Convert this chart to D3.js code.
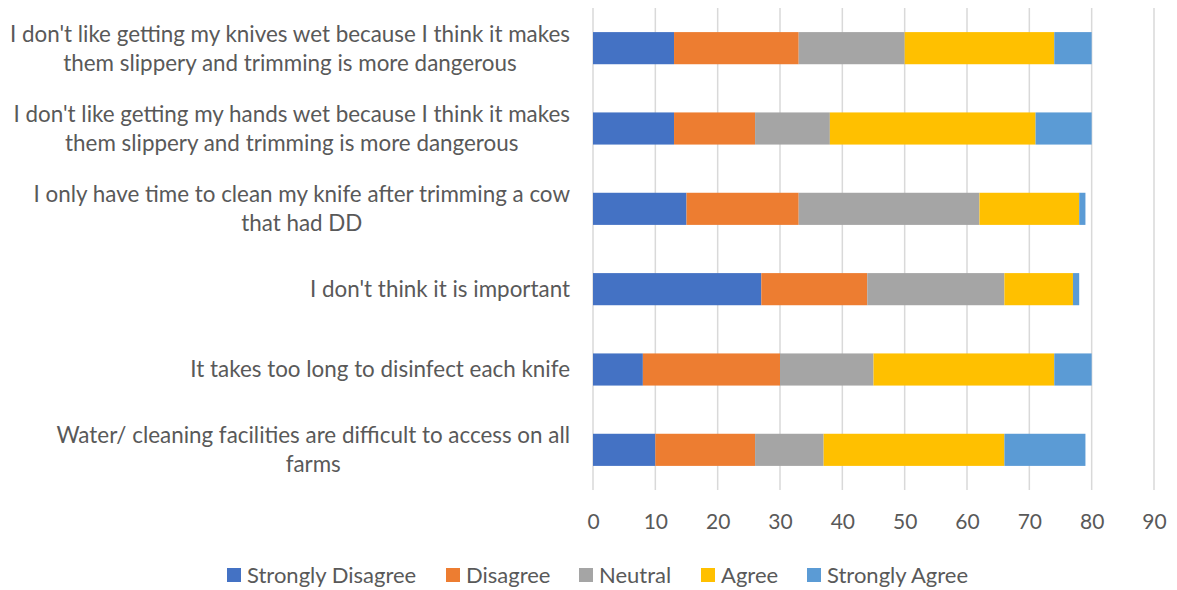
<!DOCTYPE html>
<html>
<head>
<meta charset="utf-8">
<script src="https://cdn.jsdelivr.net/npm/d3@7"></script>
<style>
  html, body { margin: 0; padding: 0; background: #fff; }
  svg text { font-family: Lato, "Open Sans", sans-serif; fill: #595959; }
</style>
</head>
<body>
<svg id="chart" width="1177" height="590"></svg>
<script>
// Survey statements (top to bottom), each label split into display lines
const categories = [
  ["I don't like getting my knives wet because I think it makes", "them slippery and trimming is more dangerous"],
  ["I don't like getting my hands wet because I think it makes", "them slippery and trimming is more dangerous"],
  ["I only have time to clean my knife after trimming a cow", "that had DD"],
  ["I don't think it is important"],
  ["It takes too long to disinfect each knife"],
  ["Water/ cleaning facilities are difficult to access on all", "farms"]
];

const seriesNames = ["Strongly Disagree", "Disagree", "Neutral", "Agree", "Strongly Agree"];
const seriesColors = ["#4472C4", "#ED7D31", "#A5A5A5", "#FFC000", "#5B9BD5"];

const stronglyDisagree = [13, 13, 15, 27, 8, 10];
const disagree         = [20, 13, 18, 17, 22, 16];
const neutral          = [17, 12, 29, 22, 15, 11];
const agree            = [24, 33, 16, 11, 29, 29];
const stronglyAgree    = [6, 9, 1, 1, 6, 13];

const xTicks = [0, 10, 20, 30, 40, 50, 60, 70, 80, 90];

const seriesValues = [stronglyDisagree, disagree, neutral, agree, stronglyAgree];

// Build rows for d3.stack
const rows = categories.map((c, i) => {
  const r = { idx: i };
  seriesNames.forEach((s, k) => { r[s] = seriesValues[k][i]; });
  return r;
});

const svg = d3.select("#chart");
const margin = { left: 593, right: 23, top: 8, bottom: 100 };
const W = 1177, H = 590;

const x = d3.scaleLinear().domain([0, 90]).range([margin.left, W - margin.right]);
const y = d3.scaleBand().domain(d3.range(categories.length))
  .range([margin.top, H - margin.bottom]).paddingInner(0.6).paddingOuter(0.3);

// Vertical gridlines
svg.append("g").selectAll("line").data(xTicks).join("line")
  .attr("x1", d => x(d)).attr("x2", d => x(d))
  .attr("y1", margin.top).attr("y2", H - margin.bottom)
  .attr("stroke", "#D9D9D9").attr("stroke-width", 1.5);

// Stacked bars
const stack = d3.stack().keys(seriesNames)(rows);
svg.append("g").selectAll("g").data(stack).join("g")
  .attr("fill", (d, i) => seriesColors[i])
  .selectAll("rect").data(d => d).join("rect")
  .attr("x", d => x(d[0]))
  .attr("width", d => x(d[1]) - x(d[0]))
  .attr("y", d => y(d.data.idx))
  .attr("height", y.bandwidth());

// X axis tick labels
const xAxis = d3.axisBottom(x).tickValues(xTicks).tickSize(0).tickPadding(0);
const gx = svg.append("g").attr("transform", `translate(0,${H - margin.bottom + 24})`).call(xAxis);
gx.select(".domain").remove();
gx.selectAll("text").style("font-size", "21px").style("font-family", "Lato, sans-serif").attr("fill", "#595959");

// Category labels: block right-aligned, lines centred within the block
const labelRight = 570, lineH = 29, labelSize = "22.4px";
const labelGroups = svg.append("g").selectAll("g").data(categories).join("g");
labelGroups.each(function(d, i) {
  const g = d3.select(this);
  const top = y(i) + y.bandwidth() / 2 - (d.length - 1) * lineH / 2;
  const texts = d.map((line, j) => g.append("text")
    .attr("y", top + j * lineH).attr("dy", "0.35em")
    .style("font-size", labelSize).text(line));
  const widths = texts.map(t => t.node().getComputedTextLength());
  const maxW = d3.max(widths);
  const center = labelRight - maxW / 2;
  texts.forEach(t => t.attr("text-anchor", "middle").attr("x", center));
});

// Legend
const legendX = [227, 446, 579, 701, 807];
const lg = svg.append("g").selectAll("g").data(seriesNames).join("g")
  .attr("transform", (d, i) => `translate(${legendX[i]},575)`);
lg.append("rect").attr("x", 0).attr("y", -7).attr("width", 14).attr("height", 14)
  .attr("fill", (d, i) => seriesColors[i]);
lg.append("text").attr("x", 20).attr("dy", "0.35em").style("font-size", "22px").text(d => d);
</script>
</body>
</html>
